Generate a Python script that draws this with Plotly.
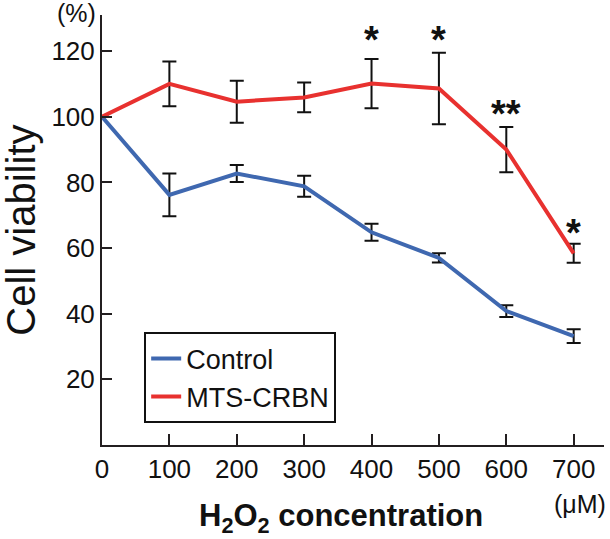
import plotly.graph_objects as go

conc = [0, 100, 200, 300, 400, 500, 600, 700]
control = [100, 76.2, 82.7, 78.8, 64.8, 57.0, 40.8, 33.2]
control_err = [0, 6.5, 2.6, 3.2, 2.6, 1.4, 1.8, 2.1]
mts = [100, 110.0, 104.6, 105.9, 110.1, 108.6, 90.0, 58.4]
mts_err = [0, 6.8, 6.4, 4.5, 7.5, 10.9, 6.9, 2.9]
sig_x = [400, 500, 600, 700]
sig_y = [125.5, 125.5, 103.0, 66.7]
sig_txt = ["*", "*", "**", "*"]
y_ticks = [20, 40, 60, 80, 100, 120]
x_ticks = [0, 100, 200, 300, 400, 500, 600, 700]

FONT = "Liberation Sans, Arial, sans-serif"
AX = "#231f20"
TXT = "#111111"

fig = go.Figure()
fig.add_trace(go.Scatter(
    x=conc, y=control, mode="lines", name="Control",
    line=dict(color="#3f68b0", width=4),
    error_y=dict(type="data", array=control_err, visible=True,
                 color=TXT, thickness=2, width=7),
))
fig.add_trace(go.Scatter(
    x=conc, y=mts, mode="lines", name="MTS-CRBN",
    line=dict(color="#e8312f", width=4),
    error_y=dict(type="data", array=mts_err, visible=True,
                 color=TXT, thickness=2, width=7),
))

for xs, ys, t in zip(sig_x, sig_y, sig_txt):
    fig.add_annotation(x=xs, y=ys, xref="x", yref="y", text=t, showarrow=False,
                       font=dict(family=FONT, size=38, color=TXT, weight="bold"),
                       yanchor="middle", xanchor="center", yshift=-7)

fig.add_annotation(x=-0.008, y=1.0, xref="paper", yref="paper", text="(%)",
                   showarrow=False, xanchor="right", yanchor="middle", yshift=2,
                   font=dict(family=FONT, size=25, color=TXT))
fig.add_annotation(x=1.008, y=-0.137, xref="paper", yref="paper", text="(μM)",
                   showarrow=False, xanchor="right", yanchor="middle",
                   font=dict(family=FONT, size=25, color=TXT))
fig.add_annotation(x=0.476, y=-0.118, xref="paper", yref="paper",
                   text="H<sub>2</sub>O<sub>2</sub> concentration",
                   showarrow=False, xanchor="center", yanchor="top",
                   font=dict(family=FONT, size=31, color=TXT, weight="bold"))
fig.add_annotation(x=-0.162, y=0.5, xref="paper", yref="paper",
                   text="Cell viability", textangle=-90,
                   showarrow=False, xanchor="center", yanchor="middle",
                   font=dict(family=FONT, size=40, color=TXT))

fig.update_layout(
    width=610, height=539,
    margin=dict(l=102, r=6, t=15, b=94),
    paper_bgcolor="white", plot_bgcolor="white",
    font=dict(family=FONT, size=26, color=TXT),
    showlegend=True,
    legend=dict(x=0.084, y=0.262, xanchor="left", yanchor="top",
                bordercolor=TXT, borderwidth=2, bgcolor="white",
                font=dict(family=FONT, size=27, color=TXT),
                tracegroupgap=0, itemwidth=30),
    xaxis=dict(range=[0, 745], tickvals=x_ticks, ticks="inside", ticklen=11,
               tickwidth=2, tickcolor=AX, showline=True, linewidth=2,
               linecolor=AX, showgrid=False, zeroline=False,
               tickfont=dict(family=FONT, size=26, color=TXT)),
    yaxis=dict(range=[0, 131], tickvals=y_ticks, ticks="inside", ticklen=10,
               tickwidth=2, tickcolor=AX, showline=True, linewidth=2,
               linecolor=AX, showgrid=False, zeroline=False,
               tickfont=dict(family=FONT, size=26, color=TXT)),
)

fig.write_html("out.html", config={"displayModeBar": False},
               post_script="document.body.style.margin='0';document.body.style.overflow='hidden';")
